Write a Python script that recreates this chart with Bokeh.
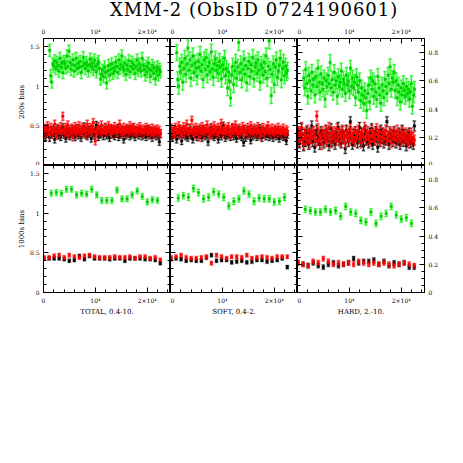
import numpy as np
from bokeh.plotting import figure
from bokeh.models import Range1d, LinearAxis, FixedTicker, Div, ColumnDataSource, CustomJSTickFormatter
from bokeh.layouts import column, row
from bokeh.embed import file_html
from bokeh.resources import INLINE

TITLE = "XMM-2 (ObsID 0724190601)"
BANDS = ["TOTAL, 0.4-10.", "SOFT, 0.4-2.", "HARD, 2.-10."]
ROW_LABELS = ["200s bins", "1000s bins"]
X_TICKS = [0, 10000, 20000]
X_TICK_LABELS = ["0", "10⁴", "2×10⁴"]
X_MAX = 24500
Y_MAX = [1.6, 1.6, 0.9]
Y_TICKS = [[0, 0.5, 1, 1.5], [0, 0.5, 1, 1.5], [0, 0.2, 0.4, 0.6, 0.8]]
Y_MINOR_STEP = [0.1, 0.1, 0.05]

# time grids (s): first bin centre and bin spacing
T0_200_BR, T0_200_G, DT_200 = 0, 1200, 196
T0_1000_BR, T0_1000_G, DT_1000 = 100, 1500, 975

# ---------------- 200 s bins ----------------
total_g_200 = [1.45, 1.13, 1.05, 1.28, 1.25, 1.32, 1.22, 1.30, 1.26, 1.19,
 1.35, 1.24, 1.29, 1.17, 1.31, 1.28, 1.23, 1.38, 1.25, 1.44,
 1.30, 1.21, 1.27, 1.33, 1.19, 1.26, 1.35, 1.22, 1.29, 1.24,
 1.31, 1.17, 1.25, 1.36, 1.28, 1.22, 1.30, 1.26, 1.19, 1.27,
 1.34, 1.24, 1.29, 1.21, 1.33, 1.25, 1.18, 1.28, 1.31, 1.22,
 1.09, 1.15, 1.20, 1.12, 1.24, 1.17, 1.04, 1.19, 1.26, 1.14,
 1.21, 1.28, 1.16, 1.23, 1.19, 1.30, 1.25, 1.17, 1.33, 1.22,
 1.27, 1.38, 1.24, 1.20, 1.29, 1.15, 1.26, 1.21, 1.32, 1.18,
 1.25, 1.30, 1.22, 1.27, 1.16, 1.24, 1.33, 1.20, 1.28, 1.23,
 1.19, 1.35, 1.26, 1.21, 1.14, 1.25, 1.18, 1.29, 1.22, 1.12,
 1.20, 1.26, 1.16, 1.23, 1.09, 1.19, 1.24, 1.14, 1.21, 1.18]
total_k_200 = [0.38, 0.44, 0.36, 0.42, 0.47, 0.40, 0.35, 0.43, 0.39, 0.45,
 0.41, 0.33, 0.44, 0.40, 0.46, 0.38, 0.42, 0.36, 0.43, 0.48,
 0.39, 0.41, 0.34, 0.45, 0.40, 0.43, 0.37, 0.42, 0.46, 0.39,
 0.44, 0.36, 0.41, 0.47, 0.38, 0.42, 0.40, 0.35, 0.44, 0.41,
 0.49, 0.39, 0.43, 0.37, 0.45, 0.40, 0.42, 0.34, 0.46, 0.41,
 0.38, 0.44, 0.51, 0.40, 0.36, 0.43, 0.39, 0.45, 0.41, 0.37,
 0.42, 0.48, 0.38, 0.44, 0.40, 0.35, 0.43, 0.46, 0.39, 0.41,
 0.37, 0.44, 0.40, 0.47, 0.36, 0.42, 0.39, 0.45, 0.41, 0.33,
 0.43, 0.38, 0.46, 0.40, 0.44, 0.37, 0.42, 0.39, 0.48, 0.41,
 0.36, 0.44, 0.40, 0.43, 0.38, 0.45, 0.41, 0.37, 0.42, 0.39,
 0.44, 0.36, 0.41, 0.46, 0.38, 0.43, 0.40, 0.35, 0.42, 0.39,
 0.44, 0.37, 0.41, 0.38, 0.30, 0.40]
total_r_200 = [0.42, 0.47, 0.40, 0.45, 0.50, 0.43, 0.39, 0.48, 0.44, 0.41,
 0.46, 0.52, 0.43, 0.38, 0.47, 0.45, 0.41, 0.49, 0.44, 0.62,
 0.46, 0.40, 0.48, 0.43, 0.51, 0.39, 0.45, 0.42, 0.47, 0.36,
 0.44, 0.49, 0.41, 0.46, 0.43, 0.50, 0.40, 0.45, 0.48, 0.42,
 0.47, 0.44, 0.39, 0.52, 0.45, 0.41, 0.48, 0.43, 0.46, 0.54,
 0.42, 0.31, 0.44, 0.40, 0.49, 0.45, 0.43, 0.51, 0.41, 0.46,
 0.44, 0.48, 0.42, 0.45, 0.50, 0.43, 0.47, 0.40, 0.46, 0.44,
 0.49, 0.42, 0.45, 0.41, 0.47, 0.52, 0.43, 0.46, 0.39, 0.48,
 0.44, 0.42, 0.47, 0.45, 0.41, 0.50, 0.43, 0.46, 0.44, 0.48,
 0.42, 0.45, 0.40, 0.47, 0.43, 0.49, 0.44, 0.41, 0.46, 0.42,
 0.45, 0.48, 0.43, 0.40, 0.46, 0.44, 0.42, 0.47, 0.39, 0.45,
 0.43, 0.41, 0.46, 0.42, 0.44, 0.40]

soft_g_200 = [1.42, 1.08, 1.00, 1.25, 1.18, 1.30, 1.05, 1.22, 1.35, 1.15,
 1.28, 1.48, 1.20, 1.33, 1.10, 1.26, 1.38, 1.17, 1.29, 1.23,
 1.12, 1.31, 1.24, 1.40, 1.19, 1.27, 1.08, 1.33, 1.21, 1.36,
 1.14, 1.25, 1.30, 1.18, 1.43, 1.22, 1.11, 1.28, 1.34, 1.20,
 1.26, 1.16, 1.31, 1.24, 1.09, 1.27, 1.21, 1.35, 1.13, 1.22,
 0.98, 1.18, 1.06, 0.85, 1.14, 1.25, 1.02, 1.19, 1.30, 1.10,
 1.24, 1.55, 1.17, 1.28, 1.08, 1.21, 1.34, 1.15, 1.26, 1.04,
 1.22, 1.31, 1.12, 1.27, 1.19, 1.36, 1.09, 1.24, 1.29, 1.16,
 1.33, 1.20, 1.05, 1.27, 1.23, 1.14, 1.30, 1.18, 1.38, 1.10,
 1.25, 1.57, 1.21, 0.88, 1.15, 1.28, 1.02, 1.24, 1.33, 1.11,
 1.19, 1.26, 1.35, 1.08, 1.22, 1.30, 1.13, 1.25, 1.17, 1.20]
soft_k_200 = [0.37, 0.43, 0.35, 0.41, 0.46, 0.39, 0.33, 0.42, 0.38, 0.44,
 0.40, 0.31, 0.43, 0.39, 0.45, 0.37, 0.41, 0.35, 0.42, 0.47,
 0.38, 0.40, 0.33, 0.44, 0.39, 0.42, 0.36, 0.41, 0.45, 0.38,
 0.43, 0.35, 0.40, 0.46, 0.37, 0.41, 0.39, 0.30, 0.43, 0.40,
 0.48, 0.38, 0.42, 0.36, 0.44, 0.39, 0.41, 0.33, 0.45, 0.40,
 0.37, 0.43, 0.50, 0.39, 0.35, 0.42, 0.38, 0.44, 0.40, 0.36,
 0.41, 0.47, 0.37, 0.43, 0.39, 0.34, 0.42, 0.45, 0.38, 0.40,
 0.36, 0.43, 0.29, 0.46, 0.35, 0.41, 0.38, 0.44, 0.40, 0.32,
 0.42, 0.37, 0.45, 0.39, 0.43, 0.36, 0.41, 0.38, 0.47, 0.40,
 0.35, 0.43, 0.39, 0.42, 0.37, 0.44, 0.40, 0.36, 0.41, 0.38,
 0.43, 0.35, 0.40, 0.45, 0.37, 0.42, 0.39, 0.34, 0.41, 0.38,
 0.43, 0.36, 0.40, 0.37, 0.31, 0.39]
soft_r_200 = [0.43, 0.47, 0.40, 0.45, 0.39, 0.48, 0.44, 0.41, 0.50, 0.42,
 0.46, 0.38, 0.44, 0.49, 0.41, 0.45, 0.52, 0.43, 0.40, 0.47,
 0.44, 0.57, 0.42, 0.46, 0.39, 0.48, 0.43, 0.45, 0.36, 0.47,
 0.41, 0.49, 0.44, 0.40, 0.46, 0.43, 0.51, 0.42, 0.45, 0.38,
 0.47, 0.44, 0.41, 0.50, 0.43, 0.46, 0.39, 0.48, 0.42, 0.45,
 0.53, 0.41, 0.44, 0.47, 0.40, 0.46, 0.43, 0.49, 0.42, 0.38,
 0.45, 0.48, 0.41, 0.44, 0.51, 0.43, 0.46, 0.40, 0.47, 0.42,
 0.44, 0.49, 0.41, 0.46, 0.43, 0.39, 0.48, 0.45, 0.42, 0.50,
 0.44, 0.40, 0.47, 0.43, 0.46, 0.41, 0.49, 0.44, 0.42, 0.37,
 0.45, 0.48, 0.43, 0.40, 0.46, 0.44, 0.50, 0.42, 0.45, 0.41,
 0.47, 0.43, 0.39, 0.46, 0.44, 0.41, 0.48, 0.42, 0.45, 0.40,
 0.44, 0.47, 0.42, 0.39, 0.45, 0.43]

hard_g_200 = [0.62, 0.55, 0.68, 0.58, 0.49, 0.64, 0.60, 0.53, 0.66, 0.57,
 0.61, 0.50, 0.63, 0.56, 0.69, 0.59, 0.52, 0.65, 0.58, 0.54,
 0.62, 0.47, 0.60, 0.56, 0.64, 0.58, 0.73, 0.55, 0.61, 0.52,
 0.66, 0.57, 0.60, 0.49, 0.63, 0.56, 0.59, 0.67, 0.54, 0.61,
 0.58, 0.51, 0.64, 0.57, 0.60, 0.53, 0.69, 0.56, 0.62, 0.55,
 0.59, 0.48, 0.63, 0.57, 0.52, 0.60, 0.46, 0.55, 0.50, 0.44,
 0.53, 0.48, 0.39, 0.51, 0.57, 0.45, 0.62, 0.54, 0.60, 0.49,
 0.58, 0.52, 0.47, 0.63, 0.55, 0.50, 0.44, 0.57, 0.53, 0.48,
 0.61, 0.56, 0.51, 0.64, 0.58, 0.70, 0.54, 0.62, 0.59, 0.66,
 0.53, 0.60, 0.48, 0.57, 0.52, 0.45, 0.55, 0.50, 0.58, 0.53,
 0.49, 0.56, 0.51, 0.54, 0.47, 0.52, 0.58, 0.42, 0.50, 0.54]
hard_k_200 = [0.18, 0.23, 0.16, 0.21, 0.26, 0.19, 0.14, 0.22, 0.17, 0.24,
 0.20, 0.15, 0.23, 0.19, 0.28, 0.17, 0.21, 0.13, 0.22, 0.25,
 0.18, 0.20, 0.15, 0.24, 0.19, 0.22, 0.16, 0.21, 0.25, 0.18,
 0.23, 0.14, 0.20, 0.26, 0.17, 0.21, 0.19, 0.15, 0.23, 0.20,
 0.27, 0.18, 0.22, 0.16, 0.24, 0.19, 0.21, 0.12, 0.25, 0.20,
 0.17, 0.23, 0.31, 0.19, 0.15, 0.22, 0.18, 0.24, 0.20, 0.16,
 0.21, 0.27, 0.17, 0.23, 0.19, 0.14, 0.22, 0.25, 0.18, 0.20,
 0.16, 0.23, 0.19, 0.26, 0.15, 0.21, 0.18, 0.24, 0.20, 0.13,
 0.22, 0.17, 0.25, 0.19, 0.23, 0.16, 0.21, 0.18, 0.31, 0.20,
 0.15, 0.23, 0.19, 0.22, 0.17, 0.24, 0.20, 0.16, 0.21, 0.18,
 0.23, 0.15, 0.20, 0.25, 0.17, 0.22, 0.19, 0.14, 0.21, 0.18,
 0.23, 0.16, 0.20, 0.17, 0.15, 0.28]
hard_r_200 = [0.20, 0.24, 0.17, 0.22, 0.27, 0.19, 0.15, 0.23, 0.21, 0.18,
 0.25, 0.20, 0.16, 0.22, 0.19, 0.24, 0.24, 0.21, 0.17, 0.35,
 0.26, 0.18, 0.22, 0.20, 0.15, 0.24, 0.21, 0.19, 0.25, 0.17,
 0.22, 0.27, 0.20, 0.16, 0.23, 0.19, 0.24, 0.21, 0.18, 0.26,
 0.20, 0.23, 0.17, 0.22, 0.25, 0.19, 0.21, 0.16, 0.24, 0.20,
 0.22, 0.18, 0.26, 0.21, 0.19, 0.23, 0.17, 0.24, 0.20, 0.22,
 0.25, 0.19, 0.21, 0.16, 0.23, 0.20, 0.27, 0.18, 0.22, 0.24,
 0.19, 0.21, 0.17, 0.25, 0.20, 0.23, 0.18, 0.22, 0.26, 0.19,
 0.21, 0.24, 0.17, 0.20, 0.23, 0.19, 0.22, 0.25, 0.18, 0.21,
 0.20, 0.24, 0.16, 0.22, 0.19, 0.23, 0.21, 0.18, 0.25, 0.20,
 0.22, 0.17, 0.21, 0.24, 0.19, 0.20, 0.23, 0.18, 0.22, 0.16,
 0.21, 0.19, 0.23, 0.17, 0.20, 0.18]

# ---------------- 1000 s bins ----------------
total_g_1000 = [1.25, 1.26, 1.25, 1.30, 1.30, 1.23, 1.25, 1.24, 1.30, 1.23, 1.16,
                1.16, 1.16, 1.29, 1.18, 1.18, 1.23, 1.28, 1.21, 1.14, 1.17, 1.16]
total_k_1000 = [0.43, 0.43, 0.43, 0.43, 0.42, 0.40, 0.41, 0.46, 0.42, 0.46, 0.43, 0.43,
                0.43, 0.42, 0.43, 0.43, 0.40, 0.43, 0.43, 0.43, 0.42, 0.42, 0.41, 0.37]
total_r_1000 = [0.44, 0.44, 0.46, 0.47, 0.44, 0.47, 0.45, 0.44, 0.46, 0.47, 0.45, 0.44,
                0.44, 0.44, 0.45, 0.44, 0.44, 0.45, 0.43, 0.45, 0.45, 0.43, 0.44, 0.41]
soft_g_1000 = [1.19, 1.22, 1.20, 1.31, 1.26, 1.18, 1.20, 1.27, 1.24, 1.20, 1.09,
               1.15, 1.18, 1.28, 1.24, 1.15, 1.19, 1.18, 1.18, 1.14, 1.15, 1.20]
soft_k_1000 = [0.42, 0.43, 0.42, 0.40, 0.41, 0.40, 0.40, 0.44, 0.47, 0.40, 0.41, 0.41,
               0.38, 0.39, 0.40, 0.38, 0.39, 0.41, 0.41, 0.39, 0.40, 0.41, 0.43, 0.32]
soft_r_1000 = [0.44, 0.45, 0.47, 0.44, 0.43, 0.43, 0.44, 0.45, 0.37, 0.47, 0.45, 0.43,
               0.45, 0.45, 0.44, 0.47, 0.43, 0.44, 0.45, 0.44, 0.43, 0.45, 0.45, 0.45]
hard_g_1000 = [0.59, 0.58, 0.57, 0.57, 0.59, 0.57, 0.58, 0.54, 0.61, 0.57, 0.56,
               0.51, 0.50, 0.57, 0.49, 0.54, 0.56, 0.61, 0.55, 0.52, 0.53, 0.49]
hard_k_1000 = [0.21, 0.20, 0.19, 0.21, 0.19, 0.18, 0.20, 0.21, 0.19, 0.20, 0.21, 0.24,
               0.21, 0.22, 0.22, 0.23, 0.20, 0.22, 0.19, 0.21, 0.20, 0.21, 0.18, 0.18]
hard_r_1000 = [0.21, 0.20, 0.19, 0.22, 0.21, 0.24, 0.22, 0.20, 0.21, 0.20, 0.21, 0.20,
               0.22, 0.21, 0.20, 0.21, 0.20, 0.21, 0.20, 0.19, 0.20, 0.21, 0.20, 0.19]

# typical 1-sigma errors (green, black, red) per band
ERR_200 = [(0.075, 0.045, 0.05), (0.10, 0.045, 0.05), (0.055, 0.035, 0.035)]
ERR_1000 = [(0.035, 0.02, 0.022), (0.04, 0.02, 0.022), (0.022, 0.015, 0.016)]

DATA = [
    [(total_g_200, total_k_200, total_r_200), (soft_g_200, soft_k_200, soft_r_200),
     (hard_g_200, hard_k_200, hard_r_200)],
    [(total_g_1000, total_k_1000, total_r_1000), (soft_g_1000, soft_k_1000, soft_r_1000),
     (hard_g_1000, hard_k_1000, hard_r_1000)],
]

STYLE = {  # point, line, halo
    "g": ("#00cc00", "#00f000", "#b4ffb4"),
    "k": ("#000000", "#000000", "#c0c0c0"),
    "r": ("#ff0000", "#ff0000", "#ffb4b4"),
}

TICK_FONT = "DejaVu Serif"

def xfmt(show):
    if not show:
        return CustomJSTickFormatter(code="return '';")
    m = ",".join("%d:'%s'" % (t, l) for t, l in zip(X_TICKS, X_TICK_LABELS))
    return CustomJSTickFormatter(code="var m={%s}; return (tick in m) ? m[tick] : '';" % m)

def yfmt(show):
    if not show:
        return CustomJSTickFormatter(code="return '';")
    return CustomJSTickFormatter(code="return String(tick);")

def make_axis(ticks, minor, fmt, show, label=None):
    ax = LinearAxis(ticker=FixedTicker(ticks=ticks, minor_ticks=minor), formatter=fmt)
    ax.major_tick_in = 5
    ax.major_tick_out = 0
    ax.minor_tick_in = 3
    ax.minor_tick_out = 0
    ax.axis_line_color = "black"
    ax.major_tick_line_color = "black"
    ax.minor_tick_line_color = "black"
    ax.axis_line_width = 1
    if show:
        ax.major_label_text_font = TICK_FONT
        ax.major_label_text_font_size = "6px"
        ax.major_label_text_color = "black"
        ax.major_label_standoff = 4
    else:
        ax.major_label_text_font_size = "0px"
        ax.major_label_standoff = 0
    if label:
        ax.axis_label = label
        ax.axis_label_text_font = TICK_FONT
        ax.axis_label_text_font_size = "7px"
        ax.axis_label_text_font_style = "normal"
        ax.axis_label_text_color = "black"
        ax.axis_label_standoff = 1
    return ax

def make_source(t, y, err):
    lo = [v - err for v in y]
    hi = [v + err for v in y]
    return ColumnDataSource(dict(t=list(t), y=y, lo=lo, hi=hi))

def draw_halo(p, src, key):
    halo = STYLE[key][2]
    p.segment(x0="t", y0="lo", x1="t", y1="hi", source=src, line_color=halo, line_width=2.5)
    for c in ("lo", "hi"):
        p.scatter("t", c, source=src, marker="dash", size=4, line_color=halo, line_width=2)

def draw_core(p, src, key):
    pt, ln, _ = STYLE[key]
    p.segment(x0="t", y0="lo", x1="t", y1="hi", source=src, line_color=ln, line_width=0.8)
    for c in ("lo", "hi"):
        p.scatter("t", c, source=src, marker="dash", size=3, line_color=ln, line_width=0.8)
    p.scatter("t", "y", source=src, marker="square", size=2.6, fill_color=pt,
              line_color=pt, line_width=0.3)

x_minor = list(np.arange(0, X_MAX + 1, 2000))
rows = []
for r in range(2):
    figs = []
    for c in range(3):
        p = figure(frame_width=127, frame_height=127,
                   x_range=Range1d(0, X_MAX), y_range=Range1d(0, Y_MAX[c]),
                   x_axis_location=None, y_axis_location=None,
                   toolbar_location=None, output_backend="svg",
                   min_border=0,
                   min_border_left=43 if c == 0 else 0,
                   min_border_right=30 if c == 2 else 0,
                   min_border_top=14 if r == 0 else 0,
                   min_border_bottom=25 if r == 1 else 0,
                   background_fill_color="white", border_fill_color="white",
                   outline_line_color="black")
        p.xgrid.visible = False
        p.ygrid.visible = False
        y_minor = list(np.round(np.arange(0, Y_MAX[c] + 1e-9, Y_MINOR_STEP[c]), 3))
        p.add_layout(make_axis(X_TICKS, x_minor, xfmt(r == 0), r == 0), "above")
        p.add_layout(make_axis(X_TICKS, x_minor, xfmt(r == 1), r == 1,
                               BANDS[c] if r == 1 else None), "below")
        p.add_layout(make_axis(Y_TICKS[c], y_minor, yfmt(c == 0), c == 0,
                               ROW_LABELS[r] if c == 0 else None), "left")
        p.add_layout(make_axis(Y_TICKS[c], y_minor, yfmt(c == 2), c == 2), "right")

        g, k, rd = DATA[r][c]
        errs = ERR_200[c] if r == 0 else ERR_1000[c]
        if r == 0:
            tg = T0_200_G + DT_200 * np.arange(len(g))
            tk = T0_200_BR + DT_200 * np.arange(len(k))
            tr = T0_200_BR + DT_200 * np.arange(len(rd))
        else:
            tg = T0_1000_G + DT_1000 * np.arange(len(g))
            tk = T0_1000_BR + DT_1000 * np.arange(len(k))
            tr = T0_1000_BR + DT_1000 * np.arange(len(rd))
        sg = make_source(tg, g, errs[0])
        sk = make_source(tk, k, errs[1])
        sr = make_source(tr, rd, errs[2])
        draw_halo(p, sg, "g")
        draw_core(p, sg, "g")
        draw_halo(p, sk, "k")
        draw_halo(p, sr, "r")
        draw_core(p, sk, "k")
        draw_core(p, sr, "r")
        figs.append(p)
    rows.append(row(*figs))

title_html = ('<div style="position:relative; top:1px; left:110px; '
              "font-family:'DejaVu Serif'; font-size:18px; line-height:18px; "
              'letter-spacing:1px; white-space:nowrap; color:#000;">%s</div>' % TITLE)
title = Div(text=title_html, width=452, height=24, margin=0)

layout = column(title, rows[0], rows[1])
open("out.html", "w").write(file_html(layout, INLINE))
